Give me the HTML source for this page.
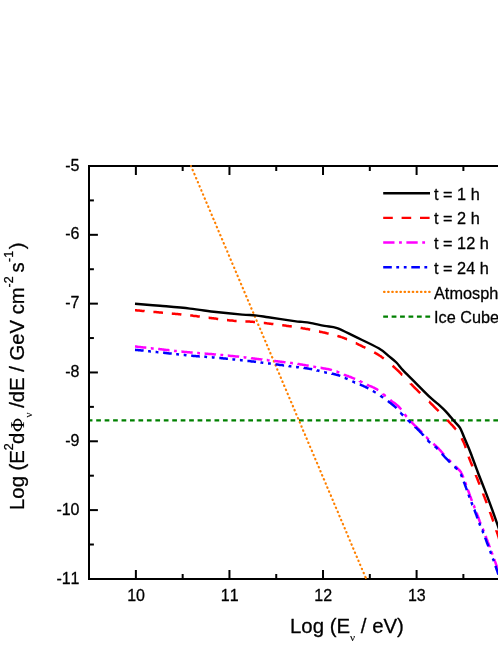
<!DOCTYPE html>
<html><head><meta charset="utf-8">
<style>
html,body{margin:0;padding:0;background:#fff;}
body{width:498px;height:645px;overflow:hidden;font-family:"Liberation Sans",sans-serif;}
svg{display:block;will-change:transform;}
text{font-family:"Liberation Sans",sans-serif;fill:#000;stroke:#000;stroke-width:0.28px;stroke-linejoin:round;font-kerning:none;}
.sym{font-family:"Liberation Serif",serif;stroke-width:0.12px;}
</style></head><body>
<svg width="498" height="645" viewBox="0 0 498 645">
<rect x="0" y="0" width="498" height="645" fill="#ffffff"/>
<defs><clipPath id="plot"><rect x="89" y="166" width="420" height="412.9"/></clipPath></defs>
<g clip-path="url(#plot)" fill="none" stroke-linejoin="round">
<line x1="87.75" y1="420.4" x2="500" y2="420.4" stroke="#008000" stroke-width="2.3" stroke-dasharray="4.7 3.75"/>
<path d="M191.0 166.0 L191.0 166.0 L191.1 166.2 M192.6 169.8 L192.6 169.8 L192.7 170.1 L192.8 170.3 M194.3 173.9 L194.4 173.9 L194.5 174.2 L194.6 174.4 M196.1 178.0 L196.1 178.0 L196.2 178.3 L196.3 178.5 M197.8 182.0 L197.8 182.1 L198.0 182.4 L198.0 182.5 M199.5 186.1 L199.6 186.2 L199.7 186.5 L199.7 186.6 M201.3 190.2 L201.3 190.2 L201.4 190.6 L201.5 190.7 M203.0 194.2 L203.0 194.3 L203.1 194.6 L203.2 194.7 M204.7 198.3 L204.7 198.4 L204.9 198.8 L204.9 198.8 M206.4 202.4 L206.4 202.4 L206.6 202.8 L206.6 202.9 M208.2 206.4 L208.2 206.5 L208.3 206.9 L208.4 206.9 M209.9 210.5 L209.9 210.5 L210.1 210.9 L210.1 211.0 M211.6 214.6 L211.6 214.7 L211.8 215.1 M213.3 218.7 L213.3 218.7 L213.5 219.1 L213.6 219.2 M215.1 222.7 L215.1 222.7 L215.3 223.2 L215.3 223.2 M216.8 226.8 L216.8 226.8 L217.0 227.3 L217.0 227.3 M218.5 230.9 L218.5 230.9 L218.7 231.3 L218.7 231.4 M220.2 234.9 L220.3 235.0 L220.5 235.4 M222.0 239.0 L222.0 239.0 L222.2 239.5 L222.2 239.5 M223.7 243.1 L223.7 243.1 L223.9 243.6 M225.4 247.1 L225.4 247.2 L225.6 247.6 L225.6 247.6 M227.2 251.2 L227.2 251.3 L227.4 251.7 M228.9 255.3 L228.9 255.3 L229.1 255.8 M230.6 259.4 L230.6 259.4 L230.8 259.9 M232.3 263.4 L232.4 263.5 L232.5 263.9 M234.1 267.5 L234.1 267.6 L234.3 268.0 M235.8 271.6 L235.8 271.6 L236.0 272.1 M237.5 275.6 L237.5 275.7 L237.7 276.1 M239.2 279.7 L239.3 279.8 L239.5 280.2 M241.0 283.8 L241.0 283.8 L241.2 284.3 M242.7 287.8 L242.7 287.9 L242.9 288.3 M244.4 291.9 L244.4 292.0 L244.6 292.4 M246.1 296.0 L246.2 296.1 L246.4 296.5 M247.9 300.1 L247.9 300.1 L248.1 300.6 M249.6 304.1 L249.6 304.2 L249.8 304.6 M251.3 308.2 L251.4 308.3 L251.5 308.7 M253.1 312.3 L253.1 312.4 L253.3 312.8 M254.8 316.3 L254.8 316.4 L255.0 316.8 M256.5 320.4 L256.5 320.4 L256.7 320.9 M258.2 324.5 L258.3 324.6 L258.4 325.0 M260.0 328.5 L260.0 328.7 L260.2 329.0 M261.7 332.6 L261.7 332.7 L261.9 333.1 M263.4 336.7 L263.4 336.7 L263.6 337.2 M265.1 340.8 L265.2 340.8 L265.4 341.3 M266.9 344.8 L266.9 344.9 L267.1 345.3 M268.6 348.9 L268.6 348.9 L268.8 349.4 M270.3 353.0 L270.4 353.1 L270.5 353.5 M272.0 357.0 L272.1 357.1 L272.3 357.5 M273.8 361.1 L273.8 361.2 L274.0 361.6 M275.5 365.2 L275.5 365.2 L275.7 365.7 M277.2 369.2 L277.2 369.3 L277.4 369.7 M279.0 373.3 L279.0 373.4 L279.2 373.8 M280.7 377.4 L280.7 377.4 L280.9 377.9 M282.4 381.5 L282.5 381.6 L282.6 382.0 M284.1 385.5 L284.2 385.6 L284.3 386.0 M285.9 389.6 L285.9 389.6 L286.1 390.1 M287.6 393.7 L287.6 393.7 L287.8 394.2 M289.3 397.7 L289.3 397.8 L289.5 398.2 M291.0 401.8 L291.1 401.9 L291.3 402.3 M292.8 405.9 L292.8 406.0 L293.0 406.4 M294.5 409.9 L294.5 410.0 L294.7 410.4 M296.2 414.0 L296.2 414.0 L296.4 414.5 M297.9 418.1 L298.0 418.1 L298.2 418.6 M299.7 422.2 L299.7 422.2 L299.9 422.7 M301.4 426.2 L301.4 426.3 L301.6 426.7 M303.1 430.3 L303.1 430.3 L303.3 430.8 M304.9 434.4 L304.9 434.5 L305.1 434.9 M306.6 438.4 L306.6 438.4 L306.8 438.9 M308.3 442.5 L308.3 442.5 L308.5 443.0 M310.0 446.6 L310.1 446.7 L310.2 447.1 M311.8 450.6 L311.8 450.7 L312.0 451.1 M313.5 454.7 L313.5 454.8 L313.7 455.2 M315.2 458.8 L315.3 458.9 L315.4 459.3 M316.9 462.9 L317.0 462.9 L317.2 463.4 M318.7 466.9 L318.7 466.9 L318.9 467.4 M320.4 471.0 L320.4 471.0 L320.6 471.5 M322.1 475.1 L322.1 475.1 L322.3 475.6 M323.8 479.1 L323.9 479.2 L324.1 479.6 M325.6 483.2 L325.6 483.3 L325.8 483.7 M327.3 487.3 L327.3 487.3 L327.5 487.8 M329.0 491.3 L329.0 491.4 L329.2 491.8 M330.8 495.4 L330.8 495.5 L331.0 495.9 M332.5 499.5 L332.5 499.6 L332.7 500.0 M334.2 503.6 L334.2 503.6 L334.4 504.1 L334.4 504.1 M335.9 507.6 L336.0 507.7 L336.1 508.1 M337.7 511.7 L337.7 511.7 L337.9 512.2 L337.9 512.2 M339.4 515.8 L339.4 515.8 L339.6 516.3 L339.6 516.3 M341.1 519.8 L341.1 519.9 L341.3 520.3 M342.8 523.9 L342.9 523.9 L343.0 524.4 L343.1 524.4 M344.6 528.0 L344.6 528.1 L344.8 528.5 M346.3 532.0 L346.3 532.1 L346.5 532.5 L346.5 532.5 M348.0 536.1 L348.0 536.2 L348.2 536.6 L348.2 536.6 M349.7 540.2 L349.8 540.2 L349.9 540.6 L350.0 540.7 M351.5 544.3 L351.5 544.3 L351.7 544.7 L351.7 544.8 M353.2 548.3 L353.2 548.3 L353.4 548.7 L353.4 548.8 M354.9 552.4 L355.0 552.5 L355.1 552.8 L355.1 552.9 M356.7 556.5 L356.7 556.5 L356.8 556.9 L356.9 557.0 M358.4 560.5 L358.4 560.6 L358.5 560.9 L358.6 561.0 M360.1 564.6 L360.1 564.6 L360.3 565.0 L360.3 565.1 M361.8 568.7 L361.9 568.7 L362.0 569.0 L362.0 569.2 M363.6 572.7 L363.6 572.8 L363.7 573.0 L363.8 573.2 M365.3 576.8 L365.3 576.9 L365.4 577.1 L365.5 577.3" stroke="#ff8000" stroke-width="2.15" stroke-linecap="round"/>
<path d="M135.0 346.5 L135.1 346.5 L135.7 346.6 L136.3 346.6 L136.9 346.7 L137.7 346.8 L138.5 346.9 L139.3 347.0 L140.2 347.1 L141.2 347.2 L142.1 347.3 L143.2 347.4 L144.2 347.5 L145.3 347.6 L146.3 347.7 M150.8 348.2 L151.0 348.2 L152.2 348.4 L153.3 348.5 L153.7 348.5 M158.2 349.0 L158.2 349.0 L159.3 349.1 L160.4 349.2 L161.3 349.3 L162.2 349.4 L163.2 349.5 L164.2 349.7 L165.1 349.8 L166.1 349.9 L167.1 350.0 L168.1 350.1 L169.2 350.2 L169.5 350.2 M174.1 350.7 L174.1 350.7 L175.1 350.9 L176.2 351.0 L176.8 351.0 M181.4 351.5 L181.5 351.5 L182.6 351.7 L183.6 351.8 L184.6 351.9 L185.6 352.0 L186.5 352.1 L187.5 352.2 L188.5 352.3 L189.4 352.3 L190.4 352.4 L191.5 352.5 L192.6 352.6 L192.7 352.6 M197.2 353.0 L197.3 353.0 L198.3 353.1 L199.3 353.2 L200.0 353.2 M204.6 353.6 L204.7 353.6 L205.7 353.7 L206.6 353.7 L207.6 353.8 L208.6 353.9 L209.6 354.0 L210.5 354.0 L211.5 354.1 L212.5 354.2 L213.5 354.3 L214.5 354.4 L215.5 354.4 L215.9 354.5 M220.4 354.9 L220.5 354.9 L221.5 355.0 L222.5 355.1 L223.2 355.2 M227.8 355.6 L227.9 355.6 L228.9 355.7 L229.8 355.8 L230.8 355.9 L231.8 356.0 L232.8 356.1 L233.8 356.2 L234.8 356.3 L235.8 356.4 L236.8 356.5 L237.8 356.6 L238.8 356.7 L239.1 356.8 M243.6 357.3 L243.8 357.3 L244.8 357.4 L245.8 357.5 L246.4 357.6 M251.0 358.1 L251.2 358.2 L252.2 358.3 L253.2 358.4 L254.2 358.5 L255.2 358.7 L256.1 358.8 L257.1 358.9 L258.1 359.0 L259.1 359.2 L260.1 359.3 L261.1 359.4 L262.1 359.5 L262.3 359.6 M266.8 360.1 L266.9 360.1 L267.9 360.3 L268.9 360.4 L269.6 360.5 M274.2 361.0 L274.2 361.0 L275.3 361.1 L276.3 361.2 L277.4 361.3 L278.4 361.5 L279.4 361.6 L280.5 361.7 L281.5 361.8 L282.6 361.9 L283.6 362.1 L284.6 362.2 L285.5 362.3 M290.1 362.8 L290.1 362.8 L291.0 363.0 L291.9 363.1 L292.8 363.2 L292.9 363.2 M297.4 363.8 L297.6 363.9 L298.7 364.0 L299.7 364.2 L300.7 364.4 L301.7 364.5 L302.7 364.7 L303.6 364.9 L304.6 365.0 L305.5 365.2 L306.4 365.4 L307.3 365.5 L308.3 365.7 L308.7 365.8 M313.3 366.6 L313.3 366.6 L314.3 366.8 L315.3 366.9 L316.1 367.1 M320.6 367.8 L320.7 367.8 L321.7 368.0 L322.8 368.2 L323.8 368.4 L324.8 368.5 L325.8 368.7 L326.8 368.9 L327.8 369.1 L328.7 369.3 L329.6 369.5 L330.5 369.7 L331.4 369.9 L331.9 370.1 M336.5 371.5 L336.6 371.5 L337.5 371.9 L338.4 372.3 L339.3 372.6 M343.8 374.5 L344.0 374.6 L344.9 374.9 L345.9 375.3 L346.8 375.7 L347.8 376.0 L348.7 376.4 L349.6 376.7 L350.5 377.0 L351.4 377.4 L352.3 377.8 L353.2 378.2 L354.2 378.6 L355.1 379.0 M359.7 381.0 L359.7 381.1 L360.7 381.5 L361.7 382.0 L362.5 382.4 M367.0 384.6 L367.1 384.7 L368.0 385.1 L369.0 385.6 L369.9 386.0 L370.8 386.3 L371.7 386.7 L372.5 387.1 L373.4 387.4 L374.3 387.9 L375.1 388.3 L376.0 388.8 L377.0 389.4 L377.9 390.0 L378.3 390.2 M382.9 393.8 L382.9 393.9 L383.8 394.6 L384.6 395.3 L385.4 396.0 L385.7 396.2 M390.2 400.0 L390.3 400.1 L391.2 400.8 L392.0 401.5 L392.9 402.1 L393.7 402.6 L394.4 403.1 L395.1 403.6 L395.9 404.2 L396.6 404.8 L397.4 405.4 L398.2 406.2 L399.0 407.0 L399.6 407.6 L400.2 408.3 L400.8 409.0 L401.2 409.5 M404.6 414.0 L404.7 414.2 L405.3 415.0 L406.0 415.9 L406.6 416.7 L406.7 416.8 M410.7 421.4 L410.7 421.4 L411.4 422.1 L412.2 422.9 L412.9 423.6 L413.7 424.4 L414.4 425.1 L415.2 425.8 L415.9 426.5 L416.7 427.2 L417.4 427.9 L418.1 428.6 L418.9 429.3 L419.5 430.0 L420.2 430.6 L420.9 431.2 L421.6 432.0 L421.9 432.4 M426.1 436.9 L426.3 437.0 L426.9 437.7 L427.5 438.4 L428.2 439.1 L428.8 439.7 M433.4 443.8 L433.4 443.8 L434.2 444.5 L434.9 445.1 L435.7 445.8 L436.4 446.5 L437.2 447.2 L437.9 447.9 L438.6 448.6 L439.3 449.4 L440.0 450.1 L440.7 450.9 L441.4 451.7 L442.0 452.4 L442.7 453.2 L443.4 454.0 L444.0 454.7 M448.3 459.2 L448.3 459.2 L449.0 460.0 L449.7 460.7 L450.4 461.4 L451.0 462.0 M455.6 466.4 L455.7 466.5 L456.4 467.2 L457.0 467.8 L457.6 468.4 L458.5 469.3 L459.2 470.0 L459.8 470.6 L460.3 471.3 L460.9 472.1 L461.3 473.0 L461.8 473.9 L462.2 474.8 L462.6 475.7 L463.0 476.6 L463.4 477.6 M465.1 482.2 L465.1 482.2 L465.5 483.2 L465.9 484.2 L466.1 485.0 M467.8 489.5 L467.8 489.6 L468.2 490.6 L468.6 491.7 L468.9 492.5 L469.2 493.4 L469.6 494.3 L469.9 495.3 L470.2 496.2 L470.6 497.2 L471.0 498.2 L471.3 499.2 L471.7 500.2 L471.9 500.8 M473.7 505.4 L473.8 505.5 L474.2 506.5 L474.5 507.4 L474.8 508.2 M476.6 512.7 L476.6 512.8 L477.0 513.8 L477.3 514.7 L477.7 515.7 L478.1 516.8 L478.4 517.8 L478.8 518.8 L479.1 519.8 L479.5 520.8 L479.8 521.7 L480.2 522.6 L480.5 523.5 L480.7 524.0 M482.6 528.6 L482.6 528.6 L483.0 529.4 L483.5 530.5 L483.8 531.4 M485.6 535.9 L485.6 536.0 L486.0 537.0 L486.3 537.9 L486.7 539.0 L487.1 540.0 L487.5 541.0 L487.9 542.1 L488.3 543.1 L488.7 544.1 L489.1 545.2 L489.4 546.1 L489.8 547.1 L489.8 547.2 M491.5 551.8 L491.6 551.9 L491.9 552.9 L492.3 553.9 L492.5 554.6 M494.2 559.1 L494.2 559.2 L494.6 560.1 L494.9 561.1 L495.3 562.1 L495.6 563.0 L495.9 564.0 L496.3 565.0 L496.6 566.0 L497.0 567.1 L497.4 568.2 L497.8 569.4 L498.1 570.4 M499.7 575.0 L499.7 575.0 L500.0 575.9 L500.2 576.7 L500.5 577.3 L500.6 577.8" stroke="#ff00ff" stroke-width="2.5"/>
<path d="M135.0 349.8 L135.1 349.8 L135.7 349.9 L136.3 349.9 L136.9 350.0 L137.7 350.1 L138.5 350.2 L139.3 350.2 L140.2 350.3 L141.2 350.4 L142.1 350.5 L143.2 350.6 L143.6 350.7 M148.1 351.2 L148.2 351.2 L149.4 351.3 L150.5 351.4 L150.9 351.4 M155.6 351.9 L155.7 351.9 L156.8 352.1 L158.0 352.2 L158.4 352.2 M163.1 352.7 L163.2 352.7 L164.2 352.8 L165.1 353.0 L166.1 353.1 L167.1 353.2 L168.1 353.3 L169.2 353.4 L170.2 353.5 L171.2 353.6 L171.7 353.7 M176.2 354.2 L176.4 354.2 L177.4 354.3 L178.5 354.4 L179.0 354.5 M183.7 355.0 L183.8 355.0 L184.8 355.1 L185.8 355.2 L186.5 355.3 M191.2 355.7 L191.3 355.7 L192.3 355.8 L193.4 355.9 L194.4 356.0 L195.5 356.1 L196.5 356.2 L197.5 356.2 L198.5 356.3 L199.5 356.4 L199.8 356.4 M204.3 356.8 L204.5 356.8 L205.5 356.8 L206.4 356.9 L207.1 357.0 M211.8 357.3 L211.9 357.3 L212.9 357.4 L213.9 357.5 L214.6 357.6 M219.3 358.0 L219.5 358.0 L220.5 358.1 L221.5 358.2 L222.5 358.3 L223.5 358.4 L224.5 358.5 L225.5 358.6 L226.5 358.7 L227.5 358.8 L227.9 358.8 M232.4 359.3 L232.4 359.3 L233.4 359.4 L234.4 359.5 L235.2 359.6 M239.9 360.1 L240.0 360.1 L241.0 360.2 L242.0 360.3 L242.7 360.4 M247.4 360.9 L247.6 360.9 L248.6 361.0 L249.6 361.1 L250.6 361.2 L251.6 361.4 L252.6 361.5 L253.6 361.6 L254.6 361.7 L255.5 361.8 L256.0 361.9 M260.5 362.4 L260.5 362.4 L261.5 362.6 L262.5 362.7 L263.3 362.8 M268.0 363.4 L268.1 363.4 L269.1 363.5 L270.1 363.6 L270.8 363.7 M275.5 364.3 L275.5 364.3 L276.6 364.5 L277.7 364.6 L278.7 364.7 L279.8 364.9 L280.9 365.0 L281.9 365.1 L282.9 365.3 L284.0 365.4 L284.1 365.4 M288.6 366.0 L288.8 366.1 L289.7 366.2 L290.6 366.3 L291.4 366.4 M296.1 367.0 L296.2 367.0 L297.4 367.2 L298.5 367.3 L298.9 367.4 M303.6 367.9 L303.8 368.0 L304.7 368.1 L305.6 368.2 L306.4 368.3 L307.4 368.5 L308.3 368.6 L309.2 368.8 L310.2 368.9 L311.2 369.1 L312.2 369.3 L312.2 369.3 M316.7 370.3 L316.8 370.4 L317.8 370.6 L318.8 370.8 L319.5 371.0 M324.2 372.1 L324.3 372.1 L325.2 372.4 L326.2 372.6 L327.0 372.7 M331.7 373.6 L331.8 373.7 L332.7 373.8 L333.7 374.0 L334.7 374.2 L335.6 374.5 L336.6 374.7 L337.5 375.0 L338.5 375.3 L339.4 375.6 L340.3 375.9 M344.8 377.8 L344.9 377.8 L345.8 378.3 L346.7 378.7 L347.6 379.1 L347.6 379.1 M352.3 381.3 L352.3 381.3 L353.2 381.7 L354.1 382.1 L355.0 382.5 L355.1 382.5 M359.8 384.5 L359.9 384.5 L360.8 384.9 L361.8 385.3 L362.7 385.7 L363.6 386.1 L364.6 386.5 L365.5 387.0 L366.4 387.4 L367.3 387.8 L368.2 388.3 L368.4 388.4 M372.9 390.9 L372.9 390.9 L373.8 391.5 L374.6 392.0 L375.5 392.5 L375.7 392.6 M380.4 395.7 L380.5 395.8 L381.4 396.4 L382.2 397.0 L383.1 397.6 L383.2 397.7 M387.9 401.1 L387.9 401.1 L388.8 401.8 L389.6 402.4 L390.5 403.1 L391.3 403.7 L392.0 404.3 L392.8 404.9 L393.5 405.5 L394.2 406.1 L394.8 406.6 L395.7 407.4 L396.5 408.2 M400.4 412.7 L400.5 412.7 L401.2 413.5 L401.8 414.2 L402.5 414.8 L403.2 415.5 M407.9 420.0 L408.0 420.2 L408.8 420.9 L409.6 421.7 L410.2 422.3 L410.7 422.7 M415.4 427.1 L415.4 427.2 L416.2 427.9 L417.0 428.6 L417.7 429.3 L418.4 430.0 L419.1 430.7 L419.8 431.5 L420.6 432.2 L421.3 433.0 L422.0 433.8 L422.7 434.6 L423.4 435.4 L423.5 435.6 M427.5 440.1 L427.6 440.1 L428.2 440.8 L428.9 441.5 L429.7 442.2 L430.3 442.7 M435.0 446.4 L435.1 446.6 L435.9 447.2 L436.6 447.9 L437.3 448.6 L437.7 449.0 M441.9 453.7 L442.0 453.8 L442.6 454.6 L443.3 455.3 L443.9 456.0 L444.6 456.8 L445.4 457.6 L446.1 458.3 L446.9 459.1 L447.6 459.8 L448.3 460.6 L449.0 461.3 L449.7 462.0 L450.0 462.3 M454.5 466.7 L454.7 466.8 L455.4 467.5 L456.0 468.1 L456.6 468.7 L457.3 469.4 M460.7 474.1 L460.8 474.2 L461.2 475.1 L461.6 476.0 L462.0 476.9 L462.0 476.9 M463.8 481.6 L463.8 481.6 L464.2 482.7 L464.6 483.7 L464.9 484.7 L465.3 485.6 L465.6 486.5 L465.9 487.4 L466.3 488.4 L466.6 489.3 L466.9 490.2 M468.6 494.7 L468.6 494.8 L469.0 495.8 L469.3 496.7 L469.6 497.5 M471.4 502.2 L471.4 502.2 L471.7 503.1 L472.1 504.0 L472.4 504.9 L472.5 505.0 M474.3 509.7 L474.4 509.8 L474.8 510.8 L475.1 511.8 L475.5 512.7 L475.8 513.7 L476.2 514.6 L476.6 515.6 L476.9 516.6 L477.3 517.7 L477.5 518.3 M479.1 522.8 L479.2 522.9 L479.5 523.8 L479.8 524.6 L480.2 525.6 M482.2 530.3 L482.3 530.3 L482.8 531.5 L483.2 532.7 L483.4 533.1 M485.2 537.8 L485.2 537.9 L485.6 538.9 L486.0 539.9 L486.3 540.9 L486.7 541.9 L487.1 543.0 L487.5 544.0 L487.9 545.0 L488.3 546.1 L488.4 546.4 M490.1 550.9 L490.2 551.1 L490.6 552.2 L490.9 553.2 L491.1 553.7 M492.8 558.4 L492.8 558.4 L493.2 559.3 L493.5 560.2 L493.8 561.2 L493.8 561.2 M495.5 565.9 L495.5 565.9 L495.8 567.0 L496.2 568.1 L496.6 569.2 L497.0 570.3 L497.4 571.4 L497.7 572.5 L498.1 573.6 L498.4 574.5" stroke="#0000ff" stroke-width="2.5"/>
<path d="M135.0 310.2 L135.1 310.2 L135.7 310.3 L136.3 310.3 L136.9 310.4 L137.7 310.4 L138.5 310.5 L139.3 310.6 L140.2 310.7 L141.2 310.8 L142.1 310.9 L143.2 310.9 L144.2 311.0 L144.6 311.1 M153.4 311.9 L153.6 311.9 L154.7 312.0 L155.9 312.1 L157.1 312.2 L158.2 312.3 L159.3 312.4 L160.4 312.5 L161.3 312.6 L162.2 312.7 L163.0 312.8 M171.8 313.6 L171.8 313.6 L172.8 313.7 L173.8 313.8 L174.7 313.8 L175.7 313.9 L176.7 314.0 L177.7 314.1 L178.7 314.2 L179.8 314.3 L180.8 314.4 L181.4 314.5 M190.2 315.4 L190.3 315.4 L191.2 315.5 L192.1 315.6 L193.1 315.8 L194.0 315.9 L195.0 316.0 L196.0 316.1 L197.0 316.2 L198.0 316.4 L199.0 316.5 L199.8 316.6 M208.6 317.7 L208.8 317.7 L209.9 317.9 L211.0 318.0 L212.1 318.2 L213.2 318.3 L214.3 318.5 L215.4 318.6 L216.4 318.7 L217.5 318.9 L218.2 319.0 M227.0 320.1 L227.1 320.1 L228.0 320.2 L228.9 320.3 L229.7 320.4 L230.5 320.5 L231.2 320.5 L232.1 320.6 L233.7 320.8 L235.1 320.9 L236.4 321.0 L236.6 321.0 M245.4 321.4 L245.5 321.4 L246.3 321.4 L247.1 321.4 L247.9 321.5 L248.7 321.5 L249.6 321.6 L250.6 321.7 L251.7 321.7 L252.7 321.8 L253.7 321.9 L254.7 322.0 L255.0 322.0 M263.8 323.0 L263.9 323.0 L265.0 323.1 L266.1 323.2 L266.9 323.3 L267.9 323.4 L268.8 323.6 L269.8 323.7 L270.7 323.8 L271.7 323.9 L272.7 324.0 L273.4 324.1 M282.2 325.2 L282.2 325.2 L283.2 325.3 L284.2 325.5 L285.2 325.6 L286.2 325.7 L287.2 325.9 L288.2 326.0 L289.3 326.2 L290.3 326.3 L291.3 326.5 L291.8 326.6 M300.6 327.9 L300.6 327.9 L301.6 328.1 L302.6 328.3 L303.5 328.4 L304.5 328.6 L305.4 328.8 L306.4 328.9 L307.4 329.1 L308.5 329.3 L309.5 329.5 L310.2 329.6 M319.0 331.5 L319.1 331.5 L320.0 331.7 L321.0 331.9 L322.0 332.1 L323.0 332.4 L324.0 332.6 L325.0 332.8 L325.9 333.0 L326.9 333.3 L327.9 333.5 L328.6 333.7 M337.4 335.9 L337.4 335.9 L338.4 336.2 L339.4 336.5 L340.4 336.8 L341.3 337.1 L342.3 337.4 L343.2 337.8 L344.2 338.1 L345.1 338.5 L346.0 338.8 L346.9 339.2 L347.0 339.2 M355.8 343.2 L355.9 343.2 L356.9 343.7 L357.8 344.1 L358.7 344.6 L359.7 345.0 L360.6 345.5 L361.5 345.9 L362.3 346.3 L363.2 346.8 L364.1 347.2 L365.0 347.6 L365.4 347.8 M374.2 352.3 L374.2 352.3 L375.1 352.8 L376.0 353.4 L376.9 353.9 L377.7 354.4 L378.6 354.9 L379.4 355.5 L380.3 356.0 L381.1 356.6 L381.9 357.2 L382.7 357.7 L383.4 358.3 L383.8 358.6 M392.6 365.8 L392.6 365.8 L393.4 366.5 L394.2 367.2 L395.0 367.9 L395.8 368.7 L396.6 369.4 L397.3 370.0 L398.0 370.7 L398.7 371.3 L399.3 372.0 L400.0 372.7 L400.7 373.4 L401.4 374.1 L402.1 374.8 L402.2 374.8 M410.7 383.6 L410.7 383.7 L411.5 384.4 L412.2 385.1 L412.9 385.9 L413.6 386.6 L414.3 387.3 L415.0 388.0 L415.7 388.7 L416.5 389.4 L417.2 390.2 L417.9 390.9 L418.6 391.6 L419.4 392.3 L420.1 393.0 L420.2 393.1 M429.0 401.6 L429.2 401.7 L429.9 402.4 L430.6 403.1 L431.3 403.8 L432.0 404.5 L432.7 405.2 L433.4 405.9 L434.1 406.6 L434.8 407.3 L435.6 408.1 L436.3 408.8 L437.1 409.6 L437.9 410.4 L438.6 411.1 M447.2 419.9 L447.3 420.1 L447.9 420.7 L448.6 421.4 L449.2 422.0 L449.7 422.6 L450.3 423.2 L450.8 423.8 L451.6 424.7 L452.6 425.7 L453.4 426.6 L454.1 427.4 L454.7 428.1 L455.3 428.8 L455.8 429.4 L455.9 429.5 M461.7 438.3 L461.7 438.3 L462.1 439.2 L462.6 440.1 L463.1 441.1 L463.5 442.0 L464.0 443.0 L464.3 443.8 L464.7 444.7 L465.0 445.5 L465.3 446.3 L465.5 447.2 L465.8 447.9 M468.7 456.7 L468.7 456.8 L469.0 457.6 L469.3 458.5 L469.7 459.4 L470.0 460.3 L470.4 461.2 L470.7 462.1 L471.1 463.1 L471.5 464.0 L471.9 465.0 L472.3 466.0 L472.4 466.3 M475.9 475.1 L475.9 475.2 L476.3 476.2 L476.6 477.1 L477.0 478.1 L477.4 479.0 L477.8 480.0 L478.1 480.9 L478.5 481.9 L478.9 482.8 L479.3 483.8 L479.6 484.7 M483.1 493.5 L483.1 493.7 L483.5 494.6 L483.8 495.5 L484.2 496.4 L484.6 497.4 L484.9 498.4 L485.3 499.3 L485.7 500.3 L486.0 501.2 L486.4 502.2 L486.7 503.1 L486.7 503.1 M490.0 511.9 L490.0 512.0 L490.3 512.9 L490.7 513.8 L491.0 514.8 L491.4 515.8 L491.7 516.8 L492.1 517.8 L492.4 518.8 L492.8 519.9 L493.1 520.9 L493.3 521.5 M496.3 530.3 L496.3 530.5 L496.6 531.2 L496.9 532.0 L497.3 533.3 L497.8 534.7 L498.1 535.8 L498.5 536.9 L498.8 537.8 L499.0 538.6 L499.3 539.2 L499.4 539.8 L499.5 539.9" stroke="#ff0000" stroke-width="2.5"/>
<path d="M135.00 303.70 C139.17 304.05 150.83 304.98 160.00 305.80 C169.17 306.62 180.65 307.57 190.00 308.60 C199.35 309.63 207.40 311.00 216.10 312.00 C224.80 313.00 235.67 314.03 242.20 314.60 C248.73 315.17 250.95 314.97 255.30 315.40 C259.65 315.83 261.78 316.25 268.30 317.20 C274.82 318.15 288.73 320.32 294.40 321.10 C300.07 321.88 299.70 321.60 302.30 321.90 C304.90 322.20 306.30 322.23 310.00 322.90 C313.70 323.57 319.98 325.03 324.50 325.90 C329.02 326.77 331.98 326.30 337.10 328.10 C342.22 329.90 348.27 333.33 355.20 336.70 C362.13 340.07 372.98 344.98 378.70 348.30 C384.42 351.62 386.55 354.23 389.50 356.60 C392.45 358.97 394.17 360.25 396.40 362.50 C398.63 364.75 399.95 366.97 402.90 370.10 C405.85 373.23 409.55 376.75 414.10 381.30 C418.65 385.85 425.92 393.35 430.20 397.40 C434.48 401.45 437.13 403.20 439.80 405.60 C442.47 408.00 443.78 409.18 446.20 411.80 C448.62 414.42 452.02 418.67 454.30 421.30 C456.58 423.93 458.30 425.03 459.90 427.60 C461.50 430.17 462.43 433.30 463.90 436.70 C465.37 440.10 467.40 444.83 468.70 448.00 C470.00 451.17 470.08 451.42 471.70 455.70 C473.32 459.98 475.97 467.33 478.40 473.70 C480.83 480.07 483.87 487.53 486.30 493.90 C488.73 500.27 490.80 505.80 493.00 511.90 C495.20 518.00 498.42 527.40 499.50 530.50" stroke="#000000" stroke-width="2.45"/>
</g>
<!-- axes -->
<g stroke="#000" stroke-width="2" fill="none" stroke-linecap="butt">
<path d="M89 165 V579.9 M88 166 H498 M88 578.9 H498"/>
<path d="M135.88 166 v8.9 M135.88 578.9 v-8.9"/>
<path d="M182.67 166 v4.9 M182.67 578.9 v-4.9"/>
<path d="M229.45 166 v8.9 M229.45 578.9 v-8.9"/>
<path d="M276.24 166 v4.9 M276.24 578.9 v-4.9"/>
<path d="M323.02 166 v8.9 M323.02 578.9 v-8.9"/>
<path d="M369.81 166 v4.9 M369.81 578.9 v-4.9"/>
<path d="M416.60 166 v8.9 M416.60 578.9 v-8.9"/>
<path d="M463.38 166 v4.9 M463.38 578.9 v-4.9"/>
<path d="M89 200.41 h4.9"/>
<path d="M89 234.82 h8.9"/>
<path d="M89 269.23 h4.9"/>
<path d="M89 303.64 h8.9"/>
<path d="M89 338.05 h4.9"/>
<path d="M89 372.46 h8.9"/>
<path d="M89 406.87 h4.9"/>
<path d="M89 441.28 h8.9"/>
<path d="M89 475.69 h4.9"/>
<path d="M89 510.10 h8.9"/>
<path d="M89 544.51 h4.9"/>
</g>
<circle cx="191.0" cy="166.1" r="1.0" fill="#ff8000"/><circle cx="365.8" cy="578" r="1.0" fill="#ff8000"/>
<!-- tick labels -->
<g font-size="16px">
<text x="79.5" y="170.60" text-anchor="end">-5</text>
<text x="79.5" y="239.42" text-anchor="end">-6</text>
<text x="79.5" y="308.24" text-anchor="end">-7</text>
<text x="79.5" y="377.06" text-anchor="end">-8</text>
<text x="79.5" y="445.88" text-anchor="end">-9</text>
<text x="79.5" y="514.70" text-anchor="end">-10</text>
<text x="79.5" y="583.52" text-anchor="end">-11</text>
<text x="136.08" y="600.9" text-anchor="middle">10</text>
<text x="229.65" y="600.9" text-anchor="middle">11</text>
<text x="323.22" y="600.9" text-anchor="middle">12</text>
<text x="416.80" y="600.9" text-anchor="middle">13</text>
</g>
<!-- legend -->
<g fill="none" stroke-width="2.4">
<line x1="383.2" y1="193.2" x2="430" y2="193.2" stroke="#000"/>
<line x1="383.2" y1="217.9" x2="430" y2="217.9" stroke="#ff0000" stroke-dasharray="9.6 8.8"/>
<line x1="383.2" y1="242.5" x2="425.4" y2="242.5" stroke="#ff00ff" stroke-dasharray="11.3 4.55 2.8 4.55"/>
<line x1="383.2" y1="267.2" x2="430" y2="267.2" stroke="#0000ff" stroke-dasharray="8.6 4.5 2.8 4.7 2.8 4.7"/>
<line x1="384.05" y1="291.9" x2="430.5" y2="291.9" stroke="#ff8000" stroke-width="2.2" stroke-linecap="round" stroke-dasharray="0.5 3.6"/>
<line x1="383.2" y1="316.6" x2="430.4" y2="316.6" stroke="#008000" stroke-dasharray="4.8 3.63"/>
</g>
<g font-size="16.3px">
<text x="434" y="199.7">t = 1 h</text>
<text x="434" y="224.4">t = 2 h</text>
<text x="434" y="249.1">t = 12 h</text>
<text x="434" y="273.8">t = 24 h</text>
<text x="434" y="298.5">Atmospheric</text>
<text x="434" y="323.2">Ice Cube</text>
</g>
<!-- axis titles -->
<text x="290" y="633.4" font-size="20.4px">Log (E<tspan class="sym" font-size="11.2px" stroke="#000" stroke-width="0.12" dy="7.8">&#957;</tspan><tspan dy="-7.8"> / eV)</tspan></text>
<g transform="translate(24.40 645) rotate(-90)">
<text id="yc0" x="135.10" y="0.00" font-size="20.3px">Log (E</text>
<text id="yc1" x="194.80" y="-11.80" font-size="12.5px">2</text>
<text id="yc2" x="201.00" y="0.00" font-size="20.3px">d</text>
<g id="yc3" fill="#000"><path fill-rule="evenodd" d="M213.60 -6.70 a6.5 4.6 0 1 0 13 0 a6.5 4.6 0 1 0 -13 0 Z M215.70 -6.70 a4.4 3.35 0 1 0 8.8 0 a4.4 3.35 0 1 0 -8.8 0 Z"/><rect x="219.15" y="-12.9" width="1.9" height="12.4"/><rect x="217.50" y="-13.1" width="5.2" height="0.75"/><rect x="217.50" y="-1.1" width="5.2" height="0.75"/></g>
<text id="yc4" x="227.40" y="8.00" font-size="11.2px" class="sym" stroke="#000" stroke-width="0.12">&#957;</text>
<text id="yc5" x="237.15" y="0.00" font-size="20.3px">/dE / GeV cm</text>
<text id="yc6" x="357.50" y="-11.80" font-size="12.5px">-2</text>
<text id="yc7" x="372.55" y="0.00" font-size="20.3px">s</text>
<text id="yc8" x="383.05" y="-11.80" font-size="12.5px">-1</text>
<text id="yc9" x="395.80" y="0.00" font-size="20.3px">)</text>
</g>
</svg>
</body></html>
